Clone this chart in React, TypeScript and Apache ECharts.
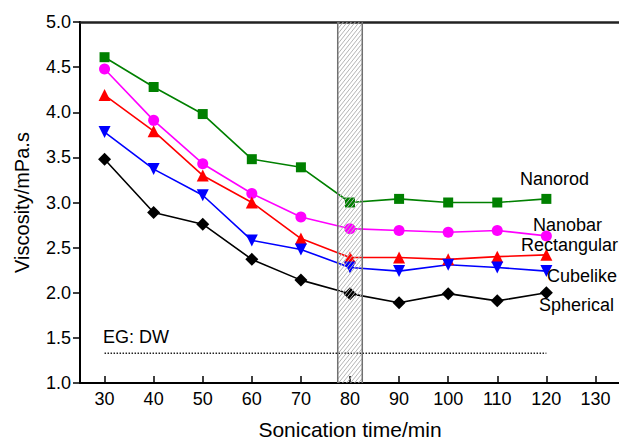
import React, { useEffect, useRef } from "react";
import * as echarts from "echarts";

const timeMin = [30, 40, 50, 60, 70, 80, 90, 100, 110, 120];
const nanorod = [4.61, 4.28, 3.98, 3.48, 3.39, 3.0, 3.04, 3.0, 3.0, 3.04];
const nanobar = [4.48, 3.91, 3.43, 3.1, 2.84, 2.71, 2.69, 2.67, 2.69, 2.63];
const rectangular = [4.19, 3.79, 3.3, 3.0, 2.6, 2.39, 2.39, 2.37, 2.4, 2.42];
const cubelike = [3.78, 3.37, 3.08, 2.58, 2.48, 2.28, 2.24, 2.31, 2.28, 2.24];
const spherical = [3.48, 2.89, 2.76, 2.37, 2.14, 1.99, 1.89, 1.99, 1.91, 2.0];
const baseFluidX = [30, 120];
const baseFluidY = 1.33;
const bandRange = [77.5, 82.5];
const xTicks = [30, 40, 50, 60, 70, 80, 90, 100, 110, 120, 130];

const FONT = "'Liberation Sans', Arial, Helvetica, sans-serif";

export default function App() {
  const ref = useRef<HTMLDivElement>(null);
  useEffect(() => {
    if (!ref.current) return;
    const chart = echarts.init(ref.current, null, { renderer: "svg" });
    const mk = (arr: number[]) => timeMin.map((t, i) => [t, arr[i]]);
    const lineSeries = (
      name: string,
      arr: number[],
      color: string,
      symbol: string,
      size: number | number[],
      rotate = 0
    ) => ({
      name,
      type: "line",
      data: mk(arr),
      symbol,
      symbolSize: size,
      symbolRotate: rotate,
      showAllSymbol: true,
      lineStyle: { color, width: 1.6 },
      itemStyle: { color, borderWidth: 0 },
      z: 2,
    });
    const label = (text: string, x: number, y: number) => ({
      type: "text",
      x,
      y,
      z: 10,
      style: {
        text,
        fill: "#000",
        font: `18px ${FONT}`,
        align: "left",
        verticalAlign: "middle",
      },
    });
    chart.setOption({
      animation: false,
      backgroundColor: "#ffffff",
      textStyle: { fontFamily: FONT },
      grid: {
        left: 80,
        top: 22,
        width: 540,
        height: 361,
        containLabel: false,
        outerBoundsMode: "none",
      },
      xAxis: [
        {
          type: "value",
          min: 25,
          max: 135,
          position: "bottom",
          name: "Sonication time/min",
          nameLocation: "middle",
          nameGap: 36,
          nameTextStyle: { fontSize: 21, color: "#000", fontFamily: FONT },
          axisLine: { show: true, onZero: false, lineStyle: { color: "#000", width: 2 } },
          axisTick: {
            show: true,
            inside: true,
            length: 7,
            customValues: xTicks,
            lineStyle: { color: "#000", width: 1.5 },
          },
          axisLabel: {
            customValues: xTicks,
            fontSize: 18,
            color: "#000",
            margin: 7,
            fontFamily: FONT,
          },
          splitLine: { show: false },
        },
        {
          type: "value",
          min: 25,
          max: 135,
          position: "top",
          axisLine: { show: true, onZero: false, lineStyle: { color: "#222", width: 2.5 } },
          axisTick: { show: false },
          axisLabel: { show: false },
          splitLine: { show: false },
        },
      ],
      yAxis: {
        type: "value",
        min: 1,
        max: 5,
        interval: 0.5,
        name: "Viscosity/mPa.s",
        nameLocation: "middle",
        nameGap: 48,
        nameRotate: 90,
        nameTextStyle: { fontSize: 20, color: "#000", fontFamily: FONT },
        axisLine: { show: true, onZero: false, lineStyle: { color: "#000", width: 2 } },
        axisTick: { show: true, inside: false, length: 7, lineStyle: { color: "#000", width: 1.5 } },
        axisLabel: {
          fontSize: 18,
          color: "#000",
          margin: 9,
          fontFamily: FONT,
          formatter: (v: number) => v.toFixed(1),
        },
        splitLine: { show: false },
      },
      series: [
        lineSeries("Nanorod", nanorod, "#008000", "rect", 10),
        lineSeries("Nanobar", nanobar, "#ff00ff", "circle", 11),
        lineSeries("Rectangular", rectangular, "#ff0000", "triangle", 12),
        lineSeries("Cubelike", cubelike, "#0000ff", "triangle", 12, 180),
        lineSeries("Spherical", spherical, "#000000", "diamond", 13),
        {
          name: "EG: DW",
          type: "line",
          data: baseFluidX.map((x) => [x, baseFluidY]),
          symbol: "none",
          lineStyle: { color: "#222", width: 1.5, type: [1.5, 1.5] },
          z: 1,
        },
        {
          type: "custom",
          clip: false,
          z: 5,
          data: [[bandRange[0], bandRange[1], 1, 5]],
          encode: { x: [0, 1], y: [2, 3] },
          renderItem: (params: any, api: any) => {
            const tl = api.coord([api.value(0), api.value(3)]);
            const br = api.coord([api.value(1), api.value(2)]);
            const left = tl[0], top = tl[1], right = br[0], bottom = br[1];
            const w = right - left;
            const slope = 1.25;
            const rise = w * slope;
            const children: any[] = [];
            for (let c = top + 2; c < bottom + rise; c += 5) {
              let xs = left, ys = c;
              if (ys > bottom) { xs = left + (ys - bottom) / slope; ys = bottom; }
              let xe = right, ye = c - rise;
              if (ye < top) { xe = left + (c - top) / slope; ye = top; }
              if (xe - xs < 0.5) continue;
              children.push({
                type: "line",
                shape: { x1: xs, y1: ys, x2: xe, y2: ye },
                style: { stroke: "#b5b5b5", lineWidth: 1 },
              });
            }
            children.push({
              type: "line",
              shape: { x1: left, y1: top, x2: left, y2: bottom },
              style: { stroke: "#707070", lineWidth: 1.5 },
            });
            children.push({
              type: "line",
              shape: { x1: right, y1: top, x2: right, y2: bottom },
              style: { stroke: "#707070", lineWidth: 1.5 },
            });
            return { type: "group", children };
          },
        },
      ],
      graphic: [
        label("Nanorod", 520, 179),
        label("Nanobar", 533, 225),
        label("Rectangular", 521, 245),
        label("Cubelike", 547, 276),
        label("Spherical", 539, 305),
        label("EG: DW", 103, 337),
      ],
    });
    return () => chart.dispose();
  }, []);
  return (
    <div
      ref={ref}
      style={{ position: "fixed", left: 0, top: 0, width: 619, height: 440 }}
    />
  );
}
